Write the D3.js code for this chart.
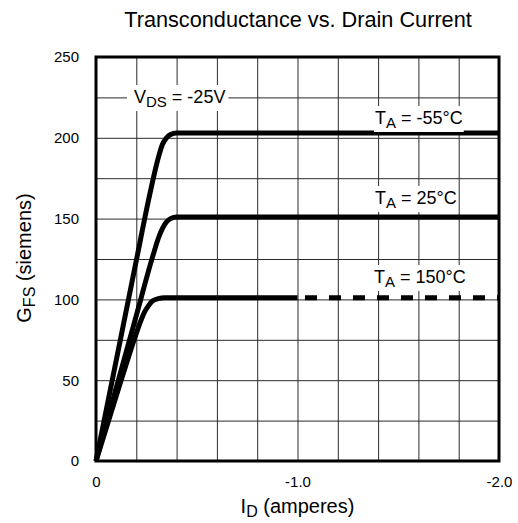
<!DOCTYPE html>
<html>
<head>
<meta charset="utf-8">
<script src="https://cdn.jsdelivr.net/npm/d3@7"></script>
<style>
body { margin: 0; background: #fff; }
svg text { font-family: "Liberation Sans", Arial, sans-serif; fill: #000; }
</style>
</head>
<body>
<div id="viz"></div>
<script>
// grid and tick values
const xGrid = [0, -0.2, -0.4, -0.6, -0.8, -1.0, -1.2, -1.4, -1.6, -1.8, -2.0];
const yGrid = [0, 25, 50, 75, 100, 125, 150, 175, 200, 225, 250];
const xTicks = [0, -1.0, -2.0];
const xTickText = ["0", "-1.0", "-2.0"];
const yTicks = [0, 50, 100, 150, 200, 250];

// T_A = -55C
const id55 = [0, -0.10, -0.20, -0.26, -0.29, -0.31, -0.33, -0.35, -0.37, -0.40, -2.0];
const gf55 = [0, 62, 124, 161, 178, 188, 196, 200, 202, 203, 203];
// T_A = 25C
const id25 = [0, -0.10, -0.20, -0.28, -0.31, -0.33, -0.35, -0.37, -0.40, -2.0];
const gf25 = [0, 45, 90, 126, 138, 144, 148, 150, 151, 151];
// T_A = 150C (solid to -1.0, dashed after)
const id150 = [0, -0.10, -0.20, -0.22, -0.24, -0.26, -0.28, -0.31, -0.34, -1.0];
const gf150 = [0, 40, 79, 86, 92, 96, 99, 100.5, 101, 101];
const id150d = [-1.0, -2.0];
const gf150d = [101, 101];

function draw() {
	let sizeX = 518, sizeY = 523;
	let left = 96, right = 499, top = 57, bottom = 461;

	let grph = d3.select("#viz").append("svg")
		.attr("width", sizeX).attr("height", sizeY);

	let x = d3.scaleLinear().domain([0, -2]).range([left, right]);
	let y = d3.scaleLinear().domain([0, 250]).range([bottom, top]);

	// grid
	let gx = grph.append("g").attr("transform", "translate(0," + bottom + ")")
		.call(d3.axisBottom(x).tickValues(xGrid).tickSize(-(bottom - top)).tickFormat(""));
	let gy = grph.append("g").attr("transform", "translate(" + left + ",0)")
		.call(d3.axisLeft(y).tickValues(yGrid).tickSize(-(right - left)).tickFormat(""));
	[gx, gy].forEach(g => {
		g.select(".domain").remove();
		g.selectAll("line").attr("stroke", "#2a2a2a").attr("stroke-width", 1);
	});

	// tick labels
	let lx = grph.append("g").attr("transform", "translate(0," + bottom + ")")
		.call(d3.axisBottom(x).tickValues(xTicks).tickSize(0).tickPadding(15.6)
			.tickFormat((d, i) => xTickText[i]));
	let ly = grph.append("g").attr("transform", "translate(" + left + ",0)")
		.call(d3.axisLeft(y).tickValues(yTicks).tickSize(0).tickPadding(17));
	[lx, ly].forEach(g => {
		g.select(".domain").remove();
		g.selectAll("text").attr("font-size", 15)
			.attr("font-family", "'Liberation Sans', Arial, sans-serif");
	});

	// curves
	let line = d3.line().x(d => x(d[0])).y(d => y(d[1])).curve(d3.curveMonotoneX);
	let series = [[id55, gf55], [id25, gf25], [id150, gf150]];
	series.forEach(s => {
		grph.append("path")
			.attr("d", line(d3.zip(s[0], s[1])))
			.attr("fill", "none").attr("stroke", "#000").attr("stroke-width", 5);
	});
	grph.append("path")
		.attr("d", line(d3.zip(id150d, gf150d)))
		.attr("fill", "none").attr("stroke", "#000").attr("stroke-width", 5)
		.attr("stroke-dasharray", "12,12").attr("stroke-dashoffset", 16.5);

	// frame
	grph.append("rect")
		.attr("x", left).attr("y", top)
		.attr("width", right - left).attr("height", bottom - top)
		.attr("fill", "none").attr("stroke", "#000").attr("stroke-width", 3);

	// labels with subscripts
	function label(px, py, parts, size, sub, anchor, padL, padR) {
		let g = grph.append("g");
		let t = g.append("text").attr("x", px).attr("y", py)
			.attr("font-size", size).attr("text-anchor", anchor || "start");
		parts.forEach(p => {
			if (p[1]) {
				t.append("tspan").attr("dy", 4).attr("font-size", sub).text(p[0]);
			} else {
				t.append("tspan").attr("dy", p[2] ? -4 : 0).text(p[0]);
			}
		});
		if (padL !== undefined) {
			let b = t.node().getBBox();
			g.insert("rect", "text")
				.attr("x", b.x - padL).attr("y", b.y - 2)
				.attr("width", b.width + padL + padR).attr("height", b.height + 3)
				.attr("fill", "#fff");
		}
		return g;
	}

	label(134, 103, [["V"], ["DS", 1], [" = -25V", 0, 1]], 18, 15, "start", 7, 3);
	label(375, 124, [["T"], ["A", 1], [" = -55°C", 0, 1]], 18, 15, "start", 1, 1);
	label(375, 204, [["T"], ["A", 1], [" = 25°C", 0, 1]], 18, 15, "start", 1, 1);
	label(374, 283, [["T"], ["A", 1], [" = 150°C", 0, 1]], 18, 15, "start", 1, 1);

	// title and axis titles
	grph.append("text").text("Transconductance vs. Drain Current")
		.attr("x", 298).attr("y", 27).attr("text-anchor", "middle")
		.attr("font-size", 21.7);

	label(297.5, 513, [["I"], ["D", 1], [" (amperes)", 0, 1]], 20, 16, "middle");

	let yl = label(0, 0, [["G"], ["FS", 1], [" (siemens)", 0, 1]], 20, 16, "middle");
	yl.attr("transform", "translate(31,258) rotate(-90)");
}
draw();
</script>
</body>
</html>
